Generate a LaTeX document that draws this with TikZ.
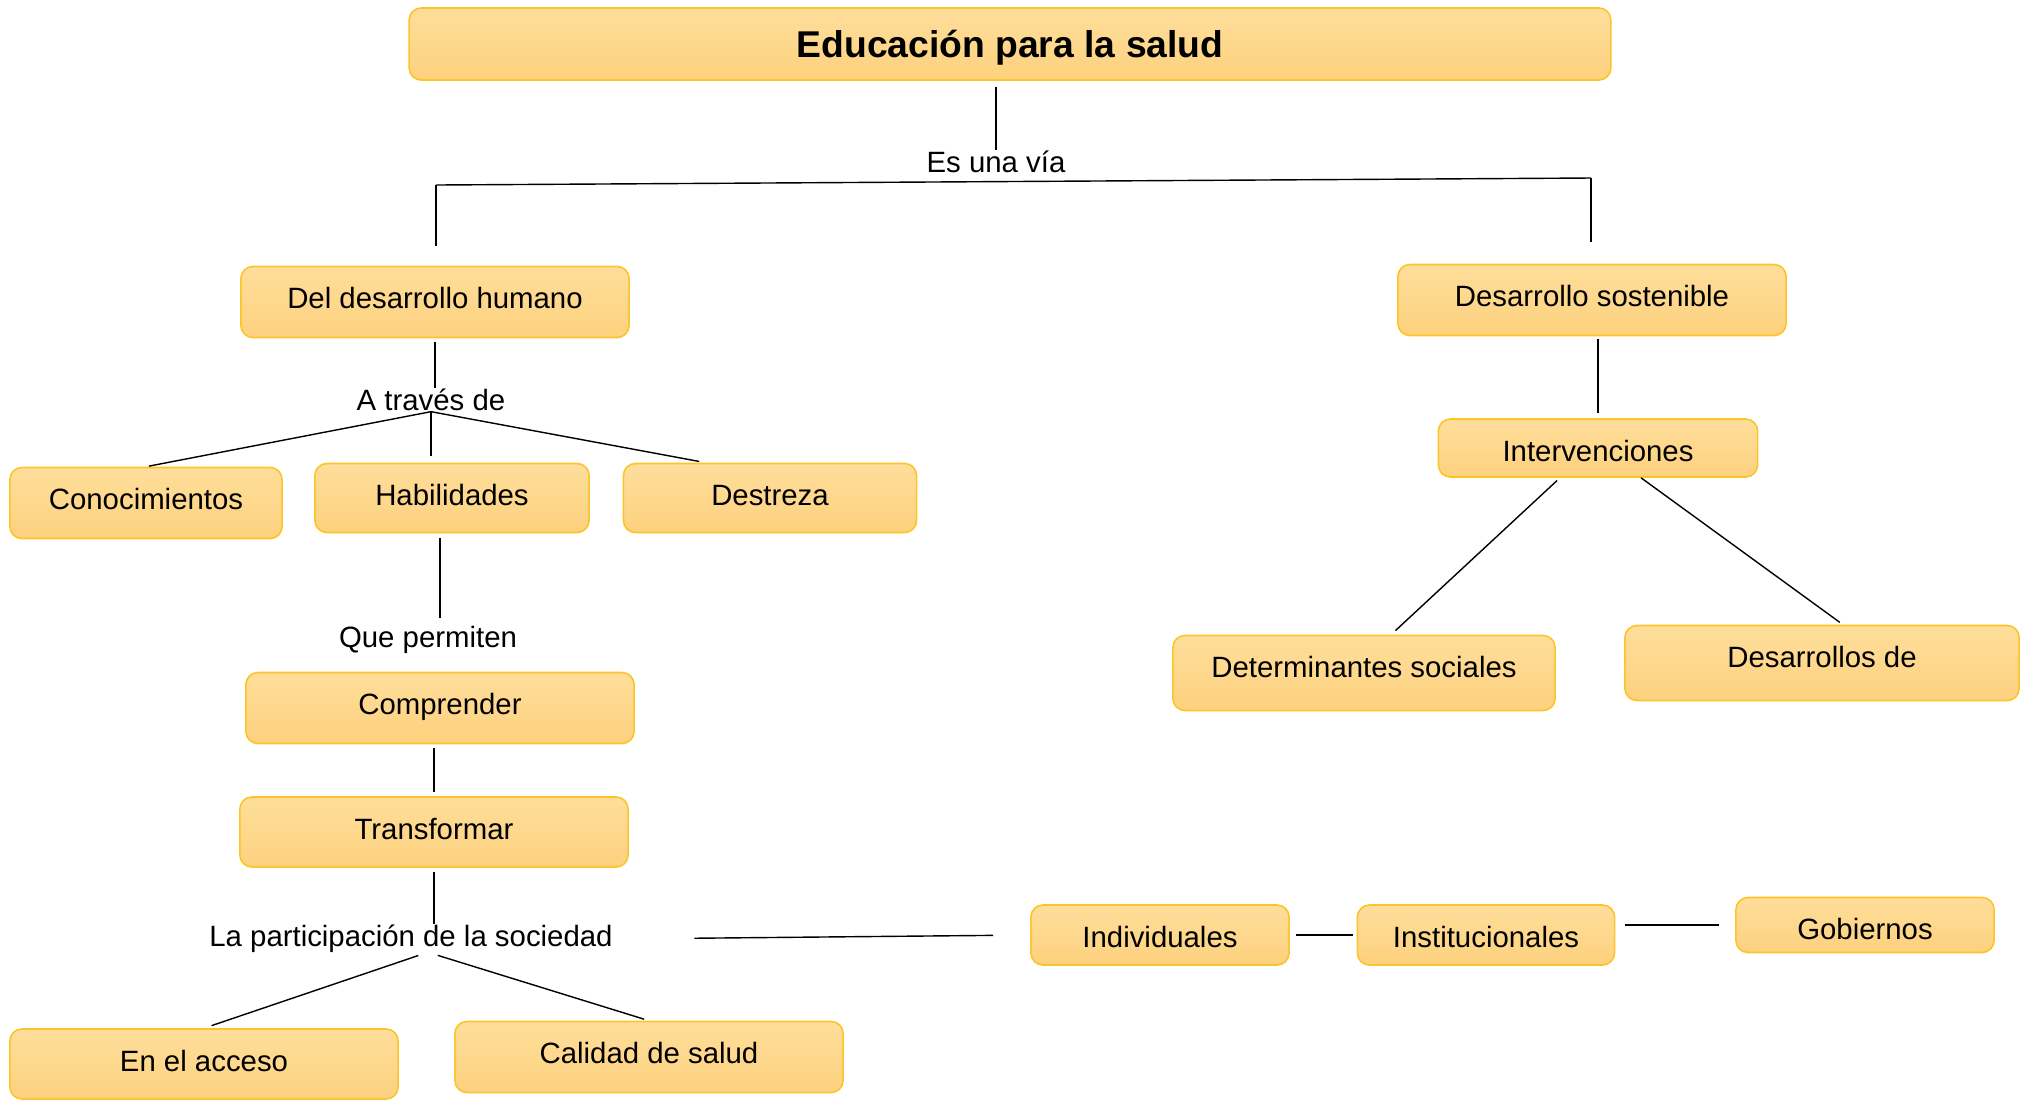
\documentclass[tikz,border=0pt]{standalone}
\usepackage{fontspec}
\setmainfont{Liberation Sans}
\definecolor{boxtop}{RGB}{254,222,155}
\definecolor{boxbot}{RGB}{253,209,126}
\definecolor{boxline}{RGB}{252,196,38}
\tikzset{
  concept/.style={draw=boxline, line width=0.45pt, rounded corners=0.12cm,
    top color=boxtop, bottom color=boxbot, inner sep=0pt,
    minimum height=#1, text height=0.42cm, text depth=#1-0.42cm,
    font=\fontsize{8.35}{10}\selectfont},
  linkword/.style={inner sep=0pt, font=\fontsize{8.35}{10}\selectfont},
  link/.style={draw=black, line width=0.4pt}
}
\begin{document}
\begin{tikzpicture}[x=0.01cm, y=-0.01cm]
            \useasboundingbox (0,0) rectangle (2021,1099);

            % title
            \node[concept=0.72cm, minimum width=12.01cm,
              text height=0.31cm, text depth=0.04cm,
              font=\fontsize{10.6}{12}\selectfont\bfseries] (title) at (1010,44) {Educación para la salud};
            \node[linkword] (esuna) at (996,162) {Es una vía};
            \coordinate (barL) at (436,185);
            \coordinate (barR) at (1591,178);

            % left branch
            \node[concept=0.71cm, minimum width=3.88cm] (ddh) at (435,302) {Del desarrollo humano};
            \node[linkword] (atraves) at (431,400) {A través de};
            \node[concept=0.71cm, minimum width=2.72cm] (conoc) at (146,503) {Conocimientos};
            \node[concept=0.69cm, minimum width=2.74cm] (habil) at (452,498) {Habilidades};
            \node[concept=0.69cm, minimum width=2.93cm] (destr) at (770,498) {Destreza};
            \node[linkword] (quep) at (428,640) {Que permiten};
            \node[concept=0.71cm, minimum width=3.88cm] (compr) at (440,708) {Comprender};
            \node[concept=0.70cm, minimum width=3.88cm] (transf) at (434,832) {Transformar};
            \node[linkword] (partic) at (411,939) {La participación de la sociedad};
            \node[concept=0.70cm, minimum width=3.88cm] (acceso) at (204,1064) {En el acceso};
            \node[concept=0.71cm, minimum width=3.88cm] (calidad) at (649,1057) {Calidad de salud};

            % bottom row
            \node[concept=0.60cm, minimum width=2.58cm] (indiv) at (1160,935) {Individuales};
            \node[concept=0.60cm, minimum width=2.57cm] (instit) at (1486,935) {Institucionales};
            \node[concept=0.55cm, minimum width=2.58cm] (gobier) at (1865,925) {Gobiernos};

            % right branch
            \node[concept=0.71cm, minimum width=3.88cm] (dsost) at (1592,300) {Desarrollo sostenible};
            \node[concept=0.58cm, minimum width=3.19cm] (interv) at (1598,448) {Intervenciones};
            \node[concept=0.75cm, minimum width=3.82cm] (determ) at (1364,673) {Determinantes sociales};
            \node[concept=0.75cm, minimum width=3.94cm] (desarr) at (1822,663) {Desarrollos de};

            % connectors
            \draw[link, shorten <=0.06cm] (esuna.north |- title.south) -- (esuna.north);
            \draw[link] (barL) -- (barR);
            \draw[link, shorten >=0.2cm] (barL) -- (barL |- ddh.north);
            \draw[link, shorten >=0.22cm] (barR) -- (barR |- dsost.north);

            \draw[link, shorten <=0.04cm] (ddh.south) -- (ddh.south |- atraves.north);
            \draw[link, shorten >=0.03cm] (atraves.south) -- (conoc.north);
            \draw[link, shorten >=0.07cm] (atraves.south) -- (atraves.south |- habil.north);
            \draw[link, shorten >=0.07cm] (atraves.south) -- ([xshift=-0.64cm]destr.north);
            \draw[link, shorten <=0.05cm, shorten >=0.08cm] ([xshift=-0.12cm]habil.south) -- ([xshift=-0.12cm]habil.south |- quep.north);
            \draw[link, shorten <=0.04cm, shorten >=0.04cm] (transf.north |- compr.south) -- (transf.north);
            \draw[link, shorten <=0.04cm] (transf.south) -- (transf.south |- partic.north);
            \draw[link, shorten <=0.06cm, shorten >=0.08cm] ([xshift=0.13cm]partic.south) -- (acceso.north);
            \draw[link, shorten <=0.06cm, shorten >=0.05cm] ([xshift=0.21cm]partic.south) -- (calidad.north);

            \draw[link, shorten <=0.81cm, shorten >=0.37cm] (partic.east) -- (indiv.west);
            \draw[link, shorten <=0.06cm, shorten >=0.04cm] (indiv.east) -- (instit.west);
            \draw[link, shorten <=0.1cm, shorten >=0.16cm] (instit.east |- gobier.west) -- (gobier.west);

            \draw[link, shorten <=0.03cm, shorten >=0.05cm] (interv.north |- dsost.south) -- (interv.north);
            \draw[link, shorten <=0.04cm, shorten >=0.06cm] ([xshift=-0.38cm]interv.south) -- ([xshift=0.27cm]determ.north);
            \draw[link, shorten >=0.04cm] ([xshift=0.43cm]interv.south) -- ([xshift=0.21cm]desarr.north);
\end{tikzpicture}
\end{document}
